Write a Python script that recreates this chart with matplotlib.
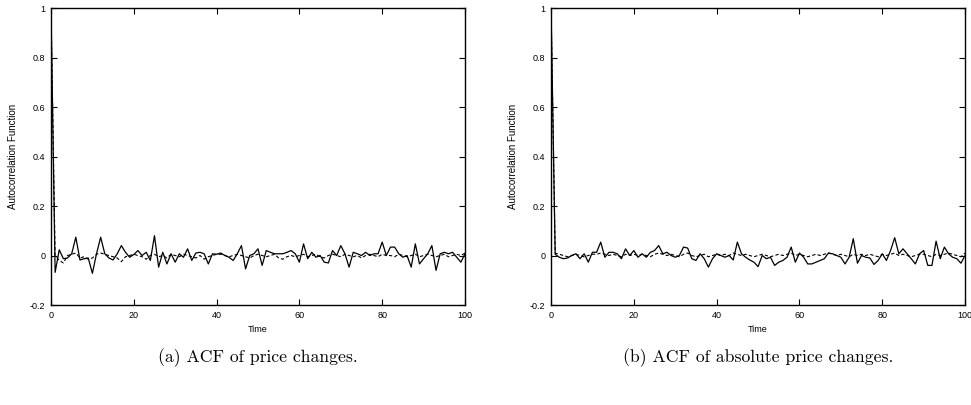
import numpy as np
import matplotlib.pyplot as plt

# lags 0..100
lags = np.arange(101)

# (a) ACF of price changes
acf_price = [
    1.0, -0.068, 0.023, -0.013, -0.010, 0.007, 0.074, -0.018, -0.013, -0.010,
    -0.072, 0.007, 0.074, 0.007, -0.010, -0.018, 0.007, 0.040, 0.013, -0.007,
    0.004, 0.020, 0.0, 0.013, -0.020, 0.080, -0.047, 0.013, -0.034, 0.007,
    -0.027, 0.007, -0.007, 0.027, -0.020, 0.010, 0.013, 0.007, -0.034, 0.007,
    0.005, 0.010, 0.0, -0.007, -0.020, 0.007, 0.040, -0.054, 0.0, 0.007,
    0.027, -0.040, 0.020, 0.013, 0.007, 0.007, 0.007, 0.013, 0.020, 0.007,
    -0.027, 0.047, -0.013, 0.013, -0.007, 0.0, -0.027, -0.030, 0.020, 0.0,
    0.040, 0.007, -0.047, 0.013, 0.007, 0.0, 0.013, 0.0, 0.007, 0.007,
    0.054, 0.0, 0.034, 0.034, 0.007, -0.007, 0.0, -0.047, 0.047, -0.034,
    -0.013, 0.007, 0.040, -0.060, 0.007, 0.013, 0.007, 0.013, -0.007, -0.027,
    0.007,
]
acf_price_ref = [
    1.0, 0.0, -0.020, -0.030, 0.0, 0.005, 0.010, -0.010, -0.005, -0.015,
    -0.010, 0.005, 0.010, 0.005, 0.0, -0.005, -0.010, -0.025, -0.005, 0.0,
    0.005, 0.0, -0.005, -0.015, 0.0, 0.005, -0.005, 0.0, -0.010, 0.005,
    0.0, -0.005, 0.005, 0.0, -0.005, -0.010, 0.0, -0.015, -0.005, 0.0,
    0.005, 0.005, 0.0, -0.005, 0.0, 0.005, 0.0, -0.005, -0.010, 0.0,
    0.005, 0.0, -0.005, 0.0, 0.005, -0.010, -0.015, -0.005, 0.0, -0.005,
    0.0, 0.005, -0.005, 0.0, 0.005, -0.005, -0.010, 0.0, 0.005, 0.0,
    -0.005, 0.005, 0.0, -0.005, 0.0, -0.010, 0.0, 0.005, 0.0, -0.005,
    0.005, 0.0, 0.0, -0.005, 0.005, 0.0, -0.005, 0.0, 0.005, -0.005,
    0.0, 0.005, 0.0, -0.005, 0.0, 0.005, -0.005, 0.0, 0.005, 0.0,
    0.010,
]

# (b) ACF of absolute price changes
acf_abs = [
    1.0, 0.005, -0.007, -0.013, -0.010, 0.0, 0.007, -0.013, 0.007, -0.027,
    0.013, 0.013, 0.054, -0.007, 0.013, 0.013, 0.007, -0.013, 0.027, 0.0,
    0.020, -0.007, 0.007, -0.007, 0.013, 0.020, 0.040, 0.007, 0.013, 0.0,
    -0.007, 0.0, 0.034, 0.030, -0.013, -0.020, 0.007, -0.013, -0.047, -0.013,
    0.007, 0.0, -0.007, 0.0, -0.018, 0.054, 0.007, -0.007, -0.018, -0.027,
    -0.045, 0.0, -0.013, -0.007, -0.040, -0.027, -0.020, -0.007, 0.034, -0.027,
    0.010, -0.007, -0.034, -0.034, -0.027, -0.020, -0.013, 0.010, 0.007, 0.0,
    -0.007, -0.034, -0.007, 0.068, -0.031, 0.0, -0.007, -0.010, -0.036, -0.020,
    0.007, -0.020, 0.020, 0.072, 0.007, 0.027, 0.007, -0.013, -0.034, 0.007,
    0.020, -0.040, -0.040, 0.058, -0.013, 0.034, 0.007, -0.007, -0.013, -0.031,
    0.0,
]
acf_abs_ref = [
    1.0, 0.010, 0.005, 0.0, -0.005, 0.0, 0.005, 0.0, -0.005, 0.0,
    0.005, 0.005, 0.010, 0.005, 0.0, 0.005, 0.0, -0.005, 0.005, 0.0,
    0.005, 0.0, 0.005, 0.0, -0.005, 0.005, 0.010, 0.005, 0.0, 0.005,
    0.0, -0.005, 0.005, 0.010, 0.0, -0.005, 0.0, 0.005, -0.005, 0.0,
    0.005, 0.0, 0.005, 0.0, 0.010, 0.005, 0.0, 0.005, 0.0, -0.005,
    0.0, 0.005, 0.0, -0.005, 0.0, 0.005, 0.0, 0.005, 0.010, 0.0,
    0.005, 0.0, -0.005, 0.0, 0.005, 0.0, 0.005, 0.010, 0.005, 0.0,
    0.005, 0.0, -0.005, 0.005, 0.0, 0.005, 0.0, 0.005, 0.0, -0.005,
    0.005, 0.0, 0.005, 0.010, 0.0, 0.005, 0.0, -0.005, 0.0, 0.005,
    0.005, 0.0, -0.005, 0.005, 0.0, 0.005, 0.010, 0.005, 0.0, -0.005,
    0.010,
]

yticks = [-0.2, 0, 0.2, 0.4, 0.6, 0.8, 1]
ytick_labels = ['-0.2', '0', '0.2', '0.4', '0.6', '0.8', '1']
xticks = [0, 20, 40, 60, 80, 100]
captions = ['(a) ACF of price changes.', '(b) ACF of absolute price changes.']

plt.rcParams['font.family'] = 'Liberation Sans'

fig = plt.figure(figsize=(9.71, 4.05), dpi=100)
ax_a = fig.add_axes([0.0525, 0.2469, 0.4264, 0.7333])
ax_b = fig.add_axes([0.5675, 0.2469, 0.4264, 0.7333])

panels = [(ax_a, acf_price, acf_price_ref), (ax_b, acf_abs, acf_abs_ref)]
for (ax, solid, dashed), caption in zip(panels, captions):
    ax.plot(lags, solid, color='black', lw=0.9)
    ax.plot(lags, dashed, color='black', lw=0.8, dashes=(3, 2))
    ax.set_xlim(0, 100)
    ax.set_ylim(-0.2, 1)
    ax.set_xticks(xticks)
    ax.set_xticklabels([str(t) for t in xticks])
    ax.set_yticks(yticks)
    ax.set_yticklabels(ytick_labels)
    ax.tick_params(direction='in', length=4, width=0.8, labelsize=6.5,
                   top=True, right=True, pad=4)
    for s in ax.spines.values():
        s.set_linewidth(1.0)
    ax.set_xlabel('Time', fontsize=6.5)
    ax.set_ylabel('Autocorrelation Function', fontsize=7)
    ax.xaxis.set_label_coords(0.5, -0.067)
    ax.yaxis.set_label_coords(-0.080, 0.5)
    # caption below each panel, centred under the axes
    pos = ax.get_position()
    fig.text(pos.x0 + pos.width / 2, 0.116, caption, ha='center',
             va='center', fontsize=12.7, family='cmr10')

fig.savefig('out.png', dpi=100)
